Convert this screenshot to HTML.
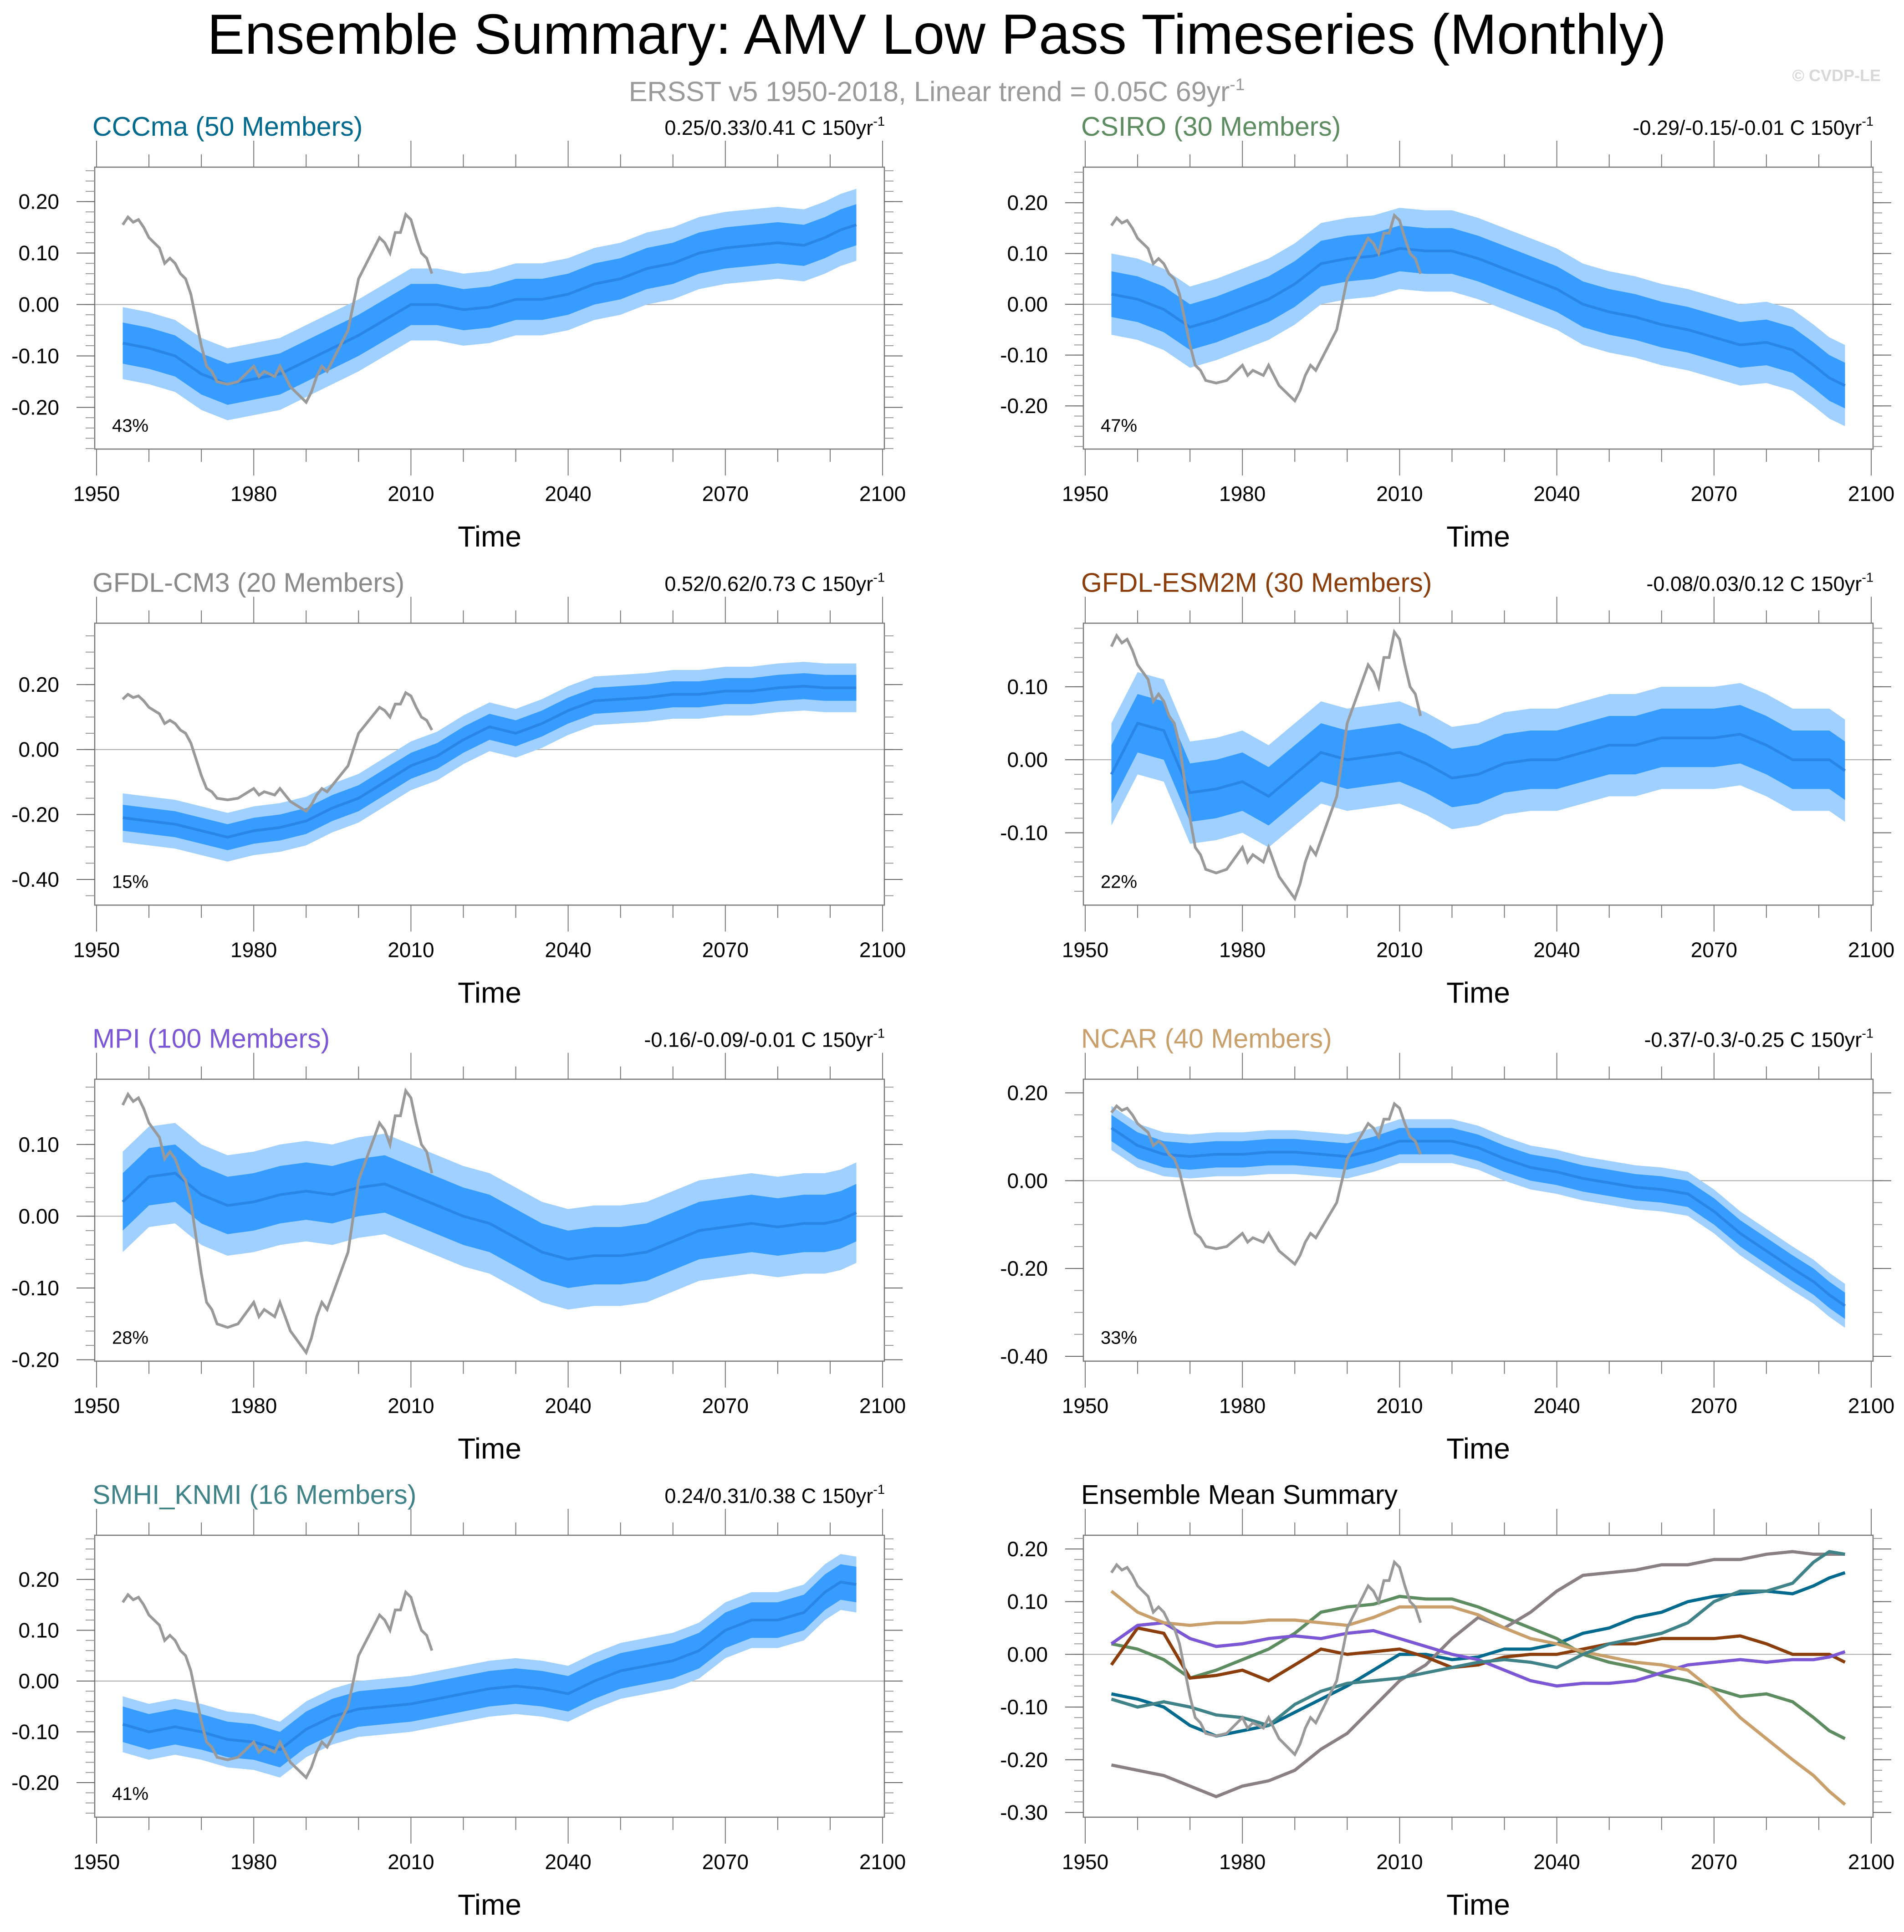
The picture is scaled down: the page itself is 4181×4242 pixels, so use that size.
<!DOCTYPE html>
<html><head><meta charset="utf-8"><style>
html,body{margin:0;padding:0;background:#fff}
svg text{font-family:"Liberation Sans",sans-serif}
</style></head><body>
<svg id="chart" xmlns="http://www.w3.org/2000/svg" width="4181" height="4237" viewBox="0 0 4181 4237">
<rect width="4181" height="4237" fill="#fff"/>
<text x="2057" y="118" font-size="124" text-anchor="middle" fill="#000">Ensemble Summary: AMV Low Pass Timeseries (Monthly)</text>
<text x="2057" y="222" font-size="61" text-anchor="middle" fill="#9a9a9a">ERSST v5 1950-2018, Linear trend = 0.05C 69yr<tspan dy="-24" font-size="37">-1</tspan></text>
<text x="4130" y="178" font-size="36" text-anchor="end" fill="#d8d8d8" font-weight="bold">© CVDP-LE</text>
<g id="panels"></g>
</svg>
<script>
const years = [1955,1960,1965,1970,1975,1980,1985,1990,1995,2000,2005,2010,2015,2020,2025,2030,2035,2040,2045,2050,2055,2060,2065,2070,2075,2080,2085,2089,2092,2095];
const obsYears = [1955,1956,1957,1958,1959,1960,1962,1963,1964,1965,1966,1967,1968,1969,1970,1971,1972,1973,1975,1977,1979,1980,1981,1982,1984,1985,1986,1987,1989,1990,1991,1992,1993,1994,1996,1998,1999,2000,2001,2003,2004,2005,2006,2007,2008,2009,2010,2011,2012,2013,2014];
const obsValues = [0.155,0.17,0.16,0.165,0.15,0.13,0.11,0.08,0.09,0.08,0.06,0.05,0.02,-0.03,-0.08,-0.12,-0.13,-0.15,-0.155,-0.15,-0.13,-0.12,-0.14,-0.13,-0.14,-0.12,-0.14,-0.16,-0.18,-0.19,-0.17,-0.14,-0.12,-0.13,-0.09,-0.05,0.0,0.05,0.07,0.11,0.13,0.12,0.1,0.14,0.14,0.175,0.165,0.13,0.1,0.09,0.06];
const meanCCCma = [-0.075,-0.085,-0.1,-0.135,-0.155,-0.145,-0.135,-0.11,-0.085,-0.06,-0.03,0.0,0.0,-0.01,-0.005,0.01,0.01,0.02,0.04,0.05,0.07,0.08,0.1,0.11,0.115,0.12,0.115,0.13,0.145,0.155];
const meanCSIRO = [0.02,0.01,-0.01,-0.045,-0.03,-0.01,0.01,0.04,0.08,0.09,0.095,0.11,0.105,0.105,0.09,0.07,0.05,0.03,0.0,-0.015,-0.025,-0.04,-0.05,-0.065,-0.08,-0.075,-0.09,-0.12,-0.145,-0.16];
const meanCM3 = [-0.21,-0.22,-0.23,-0.25,-0.27,-0.25,-0.24,-0.22,-0.18,-0.15,-0.1,-0.05,-0.02,0.03,0.07,0.05,0.08,0.12,0.15,0.155,0.16,0.17,0.17,0.18,0.18,0.19,0.195,0.19,0.19,0.19];
const meanESM2M = [-0.02,0.05,0.04,-0.045,-0.04,-0.03,-0.05,-0.02,0.01,0.0,0.005,0.01,-0.005,-0.025,-0.02,-0.005,0.0,0.0,0.01,0.02,0.02,0.03,0.03,0.03,0.035,0.02,0.0,0.0,0.0,-0.015];
const meanMPI = [0.02,0.055,0.06,0.03,0.015,0.02,0.03,0.035,0.03,0.04,0.045,0.03,0.015,0.0,-0.01,-0.03,-0.05,-0.06,-0.055,-0.055,-0.05,-0.035,-0.02,-0.015,-0.01,-0.015,-0.01,-0.01,-0.005,0.005];
const meanNCAR = [0.12,0.08,0.06,0.055,0.06,0.06,0.065,0.065,0.06,0.055,0.07,0.09,0.09,0.09,0.075,0.05,0.03,0.02,0.005,-0.005,-0.015,-0.02,-0.03,-0.07,-0.12,-0.16,-0.2,-0.23,-0.26,-0.285];
const meanSMHI = [-0.085,-0.1,-0.09,-0.1,-0.115,-0.12,-0.135,-0.095,-0.07,-0.055,-0.05,-0.045,-0.035,-0.025,-0.015,-0.01,-0.015,-0.025,0.0,0.02,0.03,0.04,0.06,0.1,0.12,0.12,0.135,0.175,0.195,0.19];
const innerSpread = [0.04,0.045,0.04,0.04,0.04,0.03,0.035];
const outerSpread = [0.07,0.08,0.075,0.07,0.07,0.05,0.055];

const panels = [
 {name:'CCCma (50 Members)',color:'#006a8e',trend:'0.25/0.33/0.41 C 150yr',pct:'43%',mean:meanCCCma,ymin:-0.281,ymax:0.267,ticks:[0.2,0.1,0,-0.1,-0.2],minor:0.02},
 {name:'CSIRO (30 Members)',color:'#5e8c61',trend:'-0.29/-0.15/-0.01 C 150yr',pct:'47%',mean:meanCSIRO,ymin:-0.285,ymax:0.27,ticks:[0.2,0.1,0,-0.1,-0.2],minor:0.02},
 {name:'GFDL-CM3 (20 Members)',color:'#8a8a8a',trend:'0.52/0.62/0.73 C 150yr',pct:'15%',mean:meanCM3,ymin:-0.479,ymax:0.389,ticks:[0.2,0,-0.2,-0.4],minor:0.05},
 {name:'GFDL-ESM2M (30 Members)',color:'#8b3d0b',trend:'-0.08/0.03/0.12 C 150yr',pct:'22%',mean:meanESM2M,ymin:-0.199,ymax:0.187,ticks:[0.1,0,-0.1],minor:0.02},
 {name:'MPI (100 Members)',color:'#7b57d5',trend:'-0.16/-0.09/-0.01 C 150yr',pct:'28%',mean:meanMPI,ymin:-0.202,ymax:0.191,ticks:[0.1,0,-0.1,-0.2],minor:0.02},
 {name:'NCAR (40 Members)',color:'#c9a06c',trend:'-0.37/-0.3/-0.25 C 150yr',pct:'33%',mean:meanNCAR,ymin:-0.411,ymax:0.231,ticks:[0.2,0,-0.2,-0.4],minor:0.05},
 {name:'SMHI_KNMI (16 Members)',color:'#3f8287',trend:'0.24/0.31/0.38 C 150yr',pct:'41%',mean:meanSMHI,ymin:-0.268,ymax:0.287,ticks:[0.2,0.1,0,-0.1,-0.2],minor:0.02},
 {name:'Ensemble Mean Summary',color:'#000',summary:true,ymin:-0.309,ymax:0.226,ticks:[0.2,0.1,0,-0.1,-0.2,-0.3],minor:0.02}
];
const summaryColors = ['#006a8e','#5e8c61','#8a8083','#8b3d0b','#7b57d5','#c9a06c','#3f8287'];
const NS='http://www.w3.org/2000/svg';
const root=document.getElementById('panels');
function mk(tag,attrs,parent){const e=document.createElementNS(NS,tag);for(const k in attrs)e.setAttribute(k,attrs[k]);parent.appendChild(e);return e;}
const BX0=208,BX1=1942,BY0=367,BY1=986,X1950=212,X2100=1938;
function slug(s){return s.toLowerCase().replace(/[^a-z0-9]+/g,'-').replace(/^-|-$/g,'');}
panels.forEach((p,i)=>{
 const ox=(i%2)*2171, oy=Math.floor(i/2)*1001.3;
 const g=mk('g',{transform:`translate(${ox},${oy})`},root);
 
 
 const xs=y=>X1950+(y-1950)*(X2100-X1950)/150;
 const ys=v=>BY1-(v-p.ymin)*(BY1-BY0)/(p.ymax-p.ymin);
 const t=mk('text',{x:203,y:298,'font-size':59,fill:p.color},g);t.textContent=p.name;
 
 
 if(p.trend){const tr=mk('text',{x:1943,y:296,'font-size':45,'text-anchor':'end',fill:'#000'},g);
  tr.textContent=p.trend;const sp=mk('tspan',{dy:-20,'font-size':29},tr);sp.textContent='-1';
  
  }
 const zl=mk('line',{x1:BX0,x2:BX1,y1:ys(0),y2:ys(0),stroke:'#aaa','stroke-width':2},g);
 
 
 if(!p.summary){
  const m=p.mean, iw=innerSpread[i], ow=outerSpread[i];
  const band=(w,c,nm)=>{let pts=years.map((y,k)=>xs(y)+','+ys(m[k]+w)).join(' ')+' '+years.slice().reverse().map((y,k)=>xs(y)+','+ys(m[years.length-1-k]-w)).join(' ');
   const pg=mk('polygon',{points:pts,fill:c},g);
   
   };
  band(ow,'#9fd0ff','outer-spread-band');
  band(iw,'#379cff','inner-spread-band');
  const ml=mk('polyline',{points:years.map((y,k)=>xs(y)+','+ys(m[k])).join(' '),fill:'none',stroke:'#2a86e6','stroke-width':6},g);
  
  
  const pc=mk('text',{x:246,y:948,'font-size':40,fill:'#000'},g);pc.textContent=p.pct;
  
  
 } else {
  [meanCCCma,meanCSIRO,meanCM3,meanESM2M,meanMPI,meanNCAR,meanSMHI].forEach((m,k)=>{
   const l=mk('polyline',{points:years.map((y,j)=>xs(y)+','+ys(m[j])).join(' '),fill:'none',stroke:summaryColors[k],'stroke-width':7},g);
   
   
  });
 }
 const ob=mk('polyline',{points:obsYears.map((y,k)=>xs(y)+','+ys(obsValues[k])).join(' '),fill:'none',stroke:'#999','stroke-width':6},g);
 
 
 const bx=mk('rect',{x:BX0,y:BY0,width:BX1-BX0,height:BY1-BY0,fill:'none',stroke:'#777','stroke-width':2.5},g);
 
 
 for(let yr=1950;yr<=2100;yr+=10){
  const maj=(yr-1950)%30===0, L=maj?58:28, x=xs(yr);
  mk('line',{x1:x,x2:x,y1:BY0,y2:BY0-L,stroke:'#777','stroke-width':2},g);
  mk('line',{x1:x,x2:x,y1:BY1,y2:BY1+L,stroke:'#777','stroke-width':2},g);
  if(maj){const tl=mk('text',{x:x,y:1100,'font-size':46,'text-anchor':'middle'},g);tl.textContent=yr;
   
   }
 }
 const lo=Math.ceil(p.ymin/p.minor-1e-6), hi=Math.floor(p.ymax/p.minor+1e-6);
 for(let k=lo;k<=hi;k++){const v=k*p.minor,y=ys(v);
  mk('line',{x1:BX0,x2:BX0-20,y1:y,y2:y,stroke:'#999','stroke-width':2},g);
  mk('line',{x1:BX1,x2:BX1+20,y1:y,y2:y,stroke:'#999','stroke-width':2},g);}
 p.ticks.forEach(v=>{const y=ys(v);
  mk('line',{x1:BX0,x2:BX0-40,y1:y,y2:y,stroke:'#666','stroke-width':2},g);
  mk('line',{x1:BX1,x2:BX1+40,y1:y,y2:y,stroke:'#666','stroke-width':2},g);
  const tl=mk('text',{x:130,y:y+16,'font-size':46,'text-anchor':'end'},g);tl.textContent=v.toFixed(2).replace('-0.00','0.00');
  
  });
 const xt=mk('text',{x:1075,y:1200,'font-size':64,'text-anchor':'middle'},g);xt.textContent='Time';
 
 
});
</script>
</body></html>
